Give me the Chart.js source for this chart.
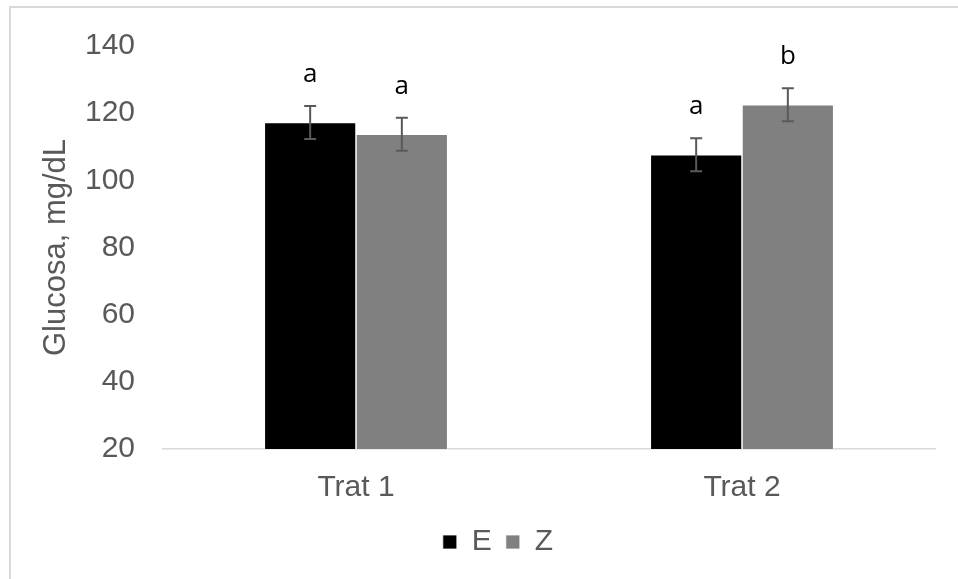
<!DOCTYPE html>
<html>
<head>
<meta charset="utf-8">
<script src="https://cdn.jsdelivr.net/npm/chart.js@4.4.0/dist/chart.umd.min.js"></script>
<style>
  html, body { margin: 0; padding: 0; background: #fff; overflow: hidden; width: 958px; height: 579px; }
  #frame { position: absolute; left: 9px; top: 6px; width: 1100px; height: 700px; border: 2px solid #d9d9d9; box-sizing: border-box; }
  #c { position: absolute; left: 0; top: 0; }
</style>
</head>
<body>
<div id="frame"></div>
<canvas id="c" width="958" height="579"></canvas>
<script>
// Glucosa en sangre por tratamiento (media ± error estándar)
const categories = ['Trat 1', 'Trat 2'];
const seriesNames = ['E', 'Z'];
const valuesE = [117.2, 107.6];
const valuesZ = [113.7, 122.5];
const errorE = [4.9, 4.9];
const errorZ = [4.9, 4.9];
const lettersE = ['a', 'a'];
const lettersZ = ['a', 'b'];
const yTicks = [20, 40, 60, 80, 100, 120, 140];

const seriesColors = ['#000000', '#808080'];
const textGray = '#595959';
const baseFont = "'Liberation Sans', Arial, sans-serif";

// Error bars and significance letters drawn on top of each bar
const errorBarPlugin = {
  id: 'errorBars',
  afterDatasetsDraw(chart) {
    const ctx = chart.ctx;
    const yScale = chart.scales.y;
    chart.data.datasets.forEach((ds, i) => {
      const meta = chart.getDatasetMeta(i);
      meta.data.forEach((bar, j) => {
        const v = ds.data[j];
        const e = ds.errors[j];
        const x = bar.x;
        const yHi = yScale.getPixelForValue(v + e);
        const yLo = yScale.getPixelForValue(v - e);
        ctx.save();
        ctx.strokeStyle = textGray;
        ctx.lineWidth = 2;
        ctx.beginPath();
        ctx.moveTo(x, yHi); ctx.lineTo(x, yLo);
        ctx.moveTo(x - 6, yHi); ctx.lineTo(x + 6, yHi);
        ctx.moveTo(x - 6, yLo); ctx.lineTo(x + 6, yLo);
        ctx.stroke();
        ctx.fillStyle = '#000';
        ctx.font = "26px 'Open Sans', 'Noto Sans', sans-serif";
        ctx.textAlign = 'center';
        ctx.textBaseline = 'alphabetic';
        ctx.fillText(ds.letters[j], x, yHi - 24);
        ctx.restore();
      });
    });
  }
};

new Chart(document.getElementById('c'), {
  type: 'bar',
  data: {
    labels: categories,
    datasets: [
      { label: seriesNames[0], data: valuesE, errors: errorE, letters: lettersE,
        backgroundColor: seriesColors[0], borderColor: '#ffffff', borderWidth: 0.75,
        barPercentage: 1.0, categoryPercentage: 0.475 },
      { label: seriesNames[1], data: valuesZ, errors: errorZ, letters: lettersZ,
        backgroundColor: seriesColors[1], borderColor: '#ffffff', borderWidth: 0.75,
        barPercentage: 1.0, categoryPercentage: 0.475 }
    ]
  },
  options: {
    responsive: false,
    animation: false,
    layout: { padding: { left: 61, right: 23, top: 42, bottom: 12 } },
    plugins: {
      tooltip: { enabled: false },
      legend: {
        position: 'bottom',
        labels: {
          boxWidth: 14, boxHeight: 14, padding: 14,
          color: textGray,
          font: { family: baseFont, size: 30 }
        }
      }
    },
    scales: {
      x: {
        grid: { display: false, drawTicks: false },
        border: { display: true, color: '#d9d9d9', width: 1.5 },
        ticks: { color: textGray, padding: 21, font: { family: baseFont, size: 30 } },
        afterFit(scale) { scale.height = 64; }
      },
      y: {
        min: yTicks[0],
        max: yTicks[yTicks.length - 1],
        grid: { display: false, drawTicks: false },
        border: { display: false },
        ticks: {
          stepSize: yTicks[1] - yTicks[0],
          color: textGray, padding: 28,
          font: { family: baseFont, size: 30 }
        },
        title: {
          display: true,
          text: 'Glucosa, mg/dL',
          color: textGray,
          font: { family: baseFont, size: 31 },
          padding: { top: -23, bottom: 0 }
        },
        afterFit(scale) { scale.width = 102; }
      }
    }
  },
  plugins: [errorBarPlugin]
});
</script>
</body>
</html>
